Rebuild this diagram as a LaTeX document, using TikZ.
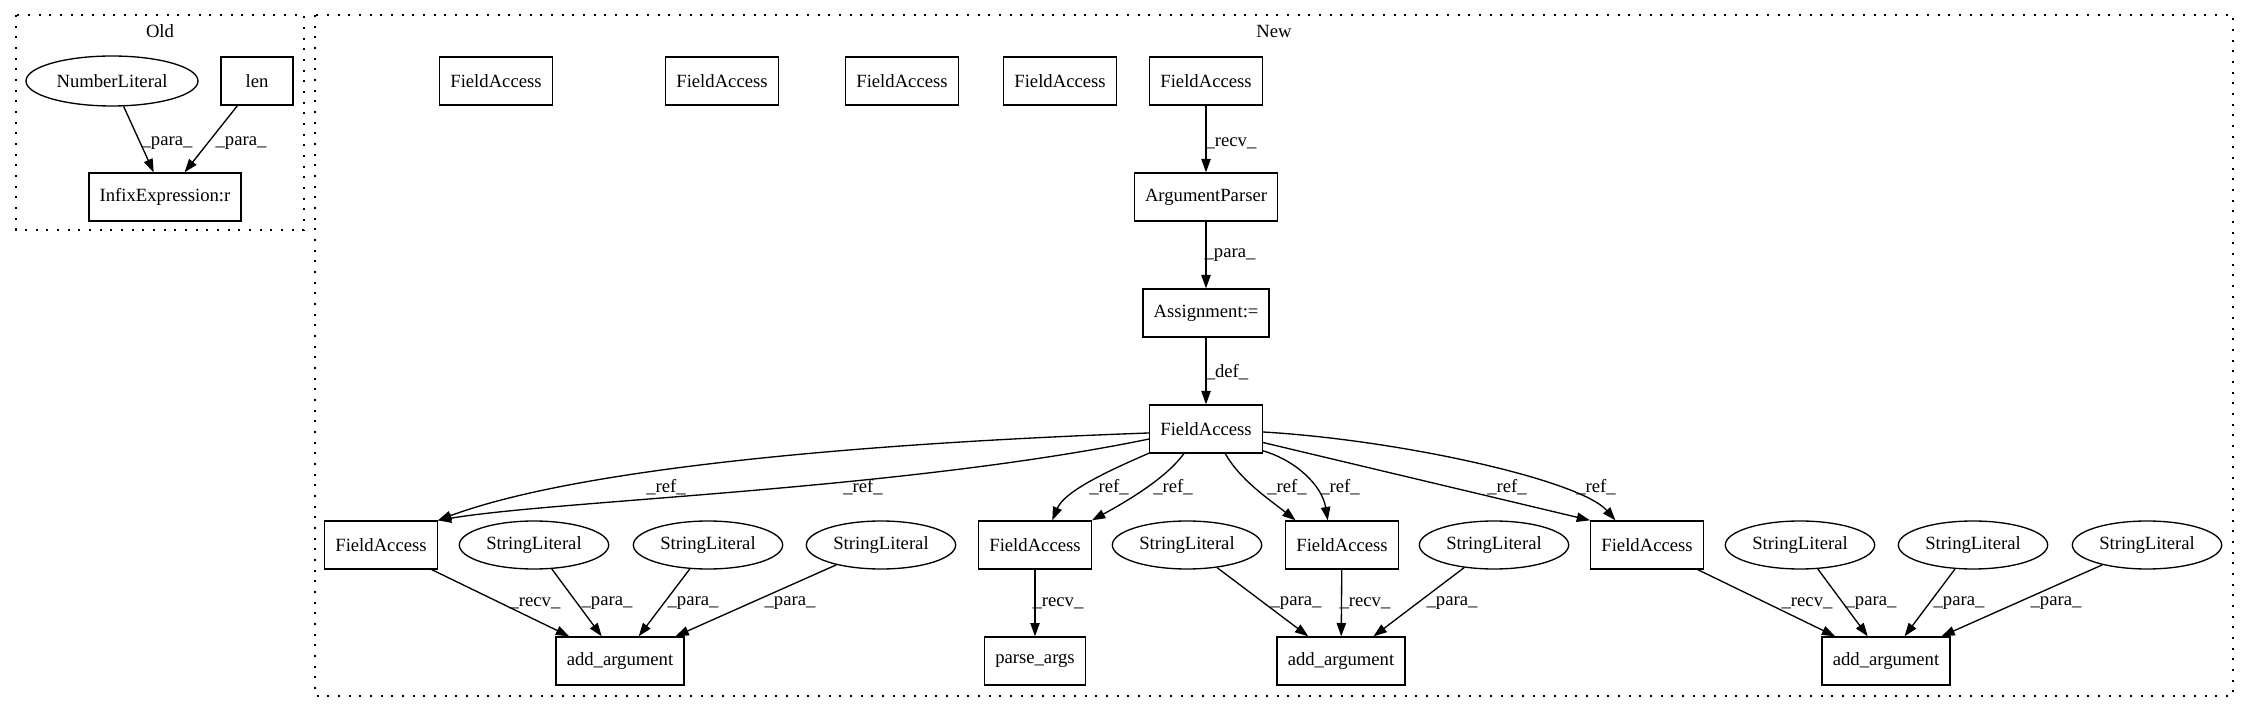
\documentclass[tikz,border=0pt]{standalone}
\usepackage{fontspec}
\setmainfont{Liberation Serif}
\usetikzlibrary{shapes.geometric,arrows.meta}

\tikzset{
  gv/.style={font=\fontsize{14pt}{16pt}\selectfont},
  box/.style={gv, draw, line width=1pt, minimum height=36pt, minimum width=54pt, inner xsep=8pt, inner ysep=0pt},
  lit/.style={gv, draw, ellipse, line width=1pt, minimum height=36pt, minimum width=112pt, inner sep=0pt},
  dep/.style={line width=1pt, -{Triangle[length=10pt,width=7pt]}},
  lbl/.style={gv, inner sep=0pt},
  cluster/.style={line width=1pt, dash pattern=on 1.5pt off 6.5pt}
}

\begin{document}
\begin{tikzpicture}[x=0.75pt, y=-0.75pt]
    \useasboundingbox (0,0) rectangle (2249,712);

    \draw[cluster] (16,15) rectangle (304,230);
    \node[lbl] (oldtitle) at (160,31) {Old};
    \draw[cluster] (315,15) rectangle (2233,696);
    \node[lbl] (newtitle) at (1274,31) {New};

    % old side
    \node[lit, minimum width=129pt, minimum height=37.5pt] (num) at (112,81) {NumberLiteral};
    \node[box] (len) at (257,81) {len};
    \node[box] (infix) at (165,197) {InfixExpression:r};

    \draw[dep] (num) -- (infix) node[lbl] at (167,143) {\_para\_};
    \draw[dep] (len) -- (infix) node[lbl] at (241,143) {\_para\_};

    % new side
    \node[box] (top1) at (496,81) {FieldAccess};
    \node[box] (top2) at (722,81) {FieldAccess};
    \node[box] (top3) at (902,81) {FieldAccess};
    \node[box] (top4) at (1060,81) {FieldAccess};
    \node[box] (farecv) at (1206,81) {FieldAccess};
    \node[box] (parser) at (1206,197) {ArgumentParser};
    \node[box] (assign) at (1206,313) {Assignment:=};
    \node[box] (fadef) at (1206,429) {FieldAccess};

    \node[box] (faa) at (381,545) {FieldAccess};
    \node[lit] (sa1) at (534,545) {StringLiteral};
    \node[lit] (sa2) at (708,545) {StringLiteral};
    \node[lit] (sa3) at (881,545) {StringLiteral};
    \node[box] (fap) at (1035,545) {FieldAccess};
    \node[lit] (sb1) at (1187,545) {StringLiteral};
    \node[box] (fab) at (1342,545) {FieldAccess};
    \node[lit] (sb2) at (1494,545) {StringLiteral};
    \node[box] (fac) at (1647,545) {FieldAccess};
    \node[lit] (sc1) at (1800,545) {StringLiteral};
    \node[lit] (sc2) at (1973,545) {StringLiteral};
    \node[lit] (sc3) at (2147,545) {StringLiteral};

    \node[box] (adda) at (620,661) {add\_argument};
    \node[box] (parse) at (1035,661) {parse\_args};
    \node[box] (addb) at (1341,661) {add\_argument};
    \node[box] (addc) at (1886,661) {add\_argument};

    \draw[dep] (farecv) -- (parser) node[lbl] at (1231,143) {\_recv\_};
    \draw[dep] (parser) -- (assign) node[lbl] at (1230,255) {\_para\_};
    \draw[dep] (assign) -- (fadef) node[lbl] at (1227,372) {\_def\_};

    % ref edges
    \draw[dep] (fadef.184) .. controls (950,440) and (600,460) .. (faa.north east) node[lbl] at (666,487) {\_ref\_};
    \draw[dep] (fadef.190) .. controls (900,490) and (560,500) .. (faa.north east) node[lbl] at (863,487) {\_ref\_};
    \draw[dep] (fadef.203) .. controls (1115,468) and (1065,490) .. (fap.55) node[lbl] at (1109,487) {\_ref\_};
    \draw[dep] (fadef.228) .. controls (1165,480) and (1120,505) .. (fap.north east) node[lbl] at (1173,487) {\_ref\_};
    \draw[dep] (fadef.308) .. controls (1240,480) and (1270,500) .. (fab.152) node[lbl] at (1287,487) {\_ref\_};
    \draw[dep] (fadef.339) .. controls (1295,460) and (1322,485) .. (fab.120) node[lbl] at (1340,487) {\_ref\_};
    \draw[dep] (fadef) -- (fac.north west) node[lbl] at (1507,487) {\_ref\_};
    \draw[dep] (fadef.357) .. controls (1400,440) and (1580,480) .. (fac.142) node[lbl] at (1596,487) {\_ref\_};

    \draw[dep] (faa) -- (adda) node[lbl] at (535,603) {\_recv\_};
    \draw[dep] (sa1) -- (adda) node[lbl] at (607,603) {\_para\_};
    \draw[dep] (sa2) -- (adda) node[lbl] at (693,603) {\_para\_};
    \draw[dep] (sa3) -- (adda) node[lbl] at (790,603) {\_para\_};
    \draw[dep] (fap) -- (parse) node[lbl] at (1058,603) {\_recv\_};
    \draw[dep] (sb1) -- (addb) node[lbl] at (1296,603) {\_para\_};
    \draw[dep] (fab) -- (addb) node[lbl] at (1365,603) {\_recv\_};
    \draw[dep] (sb2) -- (addb) node[lbl] at (1452,603) {\_para\_};
    \draw[dep] (fac) -- (addc) node[lbl] at (1807,603) {\_recv\_};
    \draw[dep] (sc1) -- (addc) node[lbl] at (1871,603) {\_para\_};
    \draw[dep] (sc2) -- (addc) node[lbl] at (1959,603) {\_para\_};
    \draw[dep] (sc3) -- (addc) node[lbl] at (2056,603) {\_para\_};
\end{tikzpicture}
\end{document}
